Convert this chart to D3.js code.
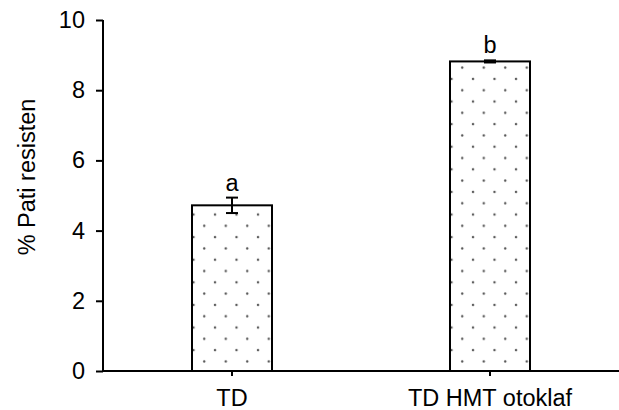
<!DOCTYPE html>
<html><head><meta charset="utf-8">
<script src="https://cdn.jsdelivr.net/npm/d3@7"></script>
<style>body{margin:0;background:#fff}svg{display:block}</style>
</head><body>
<script>
const categories = ["TD", "TD HMT otoklaf"];
const values = [4.72, 8.82];
const errors = [0.22, 0.03];
const letters = ["a", "b"];
const yTicks = [0, 2, 4, 6, 8, 10];

const W = 619, H = 410;
const svg = d3.select("body").append("svg").attr("width", W).attr("height", H);
const font = "Liberation Sans, Arial, sans-serif";
const fs = 23.5;

const defs = svg.append("defs");
const pat = defs.append("pattern").attr("id", "dots").attr("patternUnits", "userSpaceOnUse")
  .attr("width", 21.5).attr("height", 22.6).attr("x", 473 - 5).attr("y", 305 - 5);
pat.append("circle").attr("cx", 5).attr("cy", 5).attr("r", 1.2).attr("fill", "#555");
pat.append("circle").attr("cx", 5 + 10.75).attr("cy", 5 + 11.3).attr("r", 1.2).attr("fill", "#555");

const x = d3.scaleBand().domain(categories).range([103, 619]).paddingInner(0).paddingOuter(0);
const y = d3.scaleLinear().domain([0, 10]).range([371, 20]);
const bw = 80;

const g = svg.append("g");
g.selectAll("rect.bar").data(values).enter().append("rect")
  .attr("x", (d, i) => x(categories[i]) + x.bandwidth() / 2 - bw / 2)
  .attr("y", d => y(d)).attr("width", bw).attr("height", d => y(0) - y(d))
  .attr("fill", "url(#dots)").attr("stroke", "#000").attr("stroke-width", 2);

values.forEach((v, i) => {
  const cx = x(categories[i]) + x.bandwidth() / 2;
  const e = errors[i];
  g.append("line").attr("x1", cx).attr("x2", cx).attr("y1", y(v + e)).attr("y2", y(v - e)).attr("stroke", "#000").attr("stroke-width", 2);
  [v + e, v - e].forEach(t => g.append("line").attr("x1", cx - 6).attr("x2", cx + 6).attr("y1", y(t)).attr("y2", y(t)).attr("stroke", "#000").attr("stroke-width", 2));
  g.append("text").attr("x", cx).attr("y", y(v + e) - 7).attr("text-anchor", "middle")
    .attr("font-family", font).attr("font-size", fs).text(letters[i]);
});

const ya = svg.append("g").attr("transform", "translate(103,0)")
  .call(d3.axisLeft(y).tickValues(yTicks).tickSize(7).tickPadding(11).tickFormat(d3.format("d")));
ya.select(".domain").attr("stroke-width", 2).attr("d", "M0," + y(10) + "V" + y(0));
ya.selectAll(".tick line").attr("stroke-width", 2);
ya.selectAll("text").attr("font-family", font).attr("font-size", fs).attr("fill", "#000");

const xa = svg.append("g").attr("transform", "translate(0,371)")
  .call(d3.axisBottom(x).tickSize(5).tickPadding(13));
xa.select(".domain").attr("stroke-width", 2).attr("d", "M103,0H619");
xa.selectAll(".tick line").attr("stroke-width", 2);
xa.selectAll("text").attr("font-family", font).attr("font-size", fs).attr("fill", "#000");

svg.append("text").attr("transform", "translate(35,177) rotate(-90)").attr("text-anchor", "middle")
  .attr("font-family", font).attr("font-size", fs).text("% Pati resisten");
</script>
</body></html>
